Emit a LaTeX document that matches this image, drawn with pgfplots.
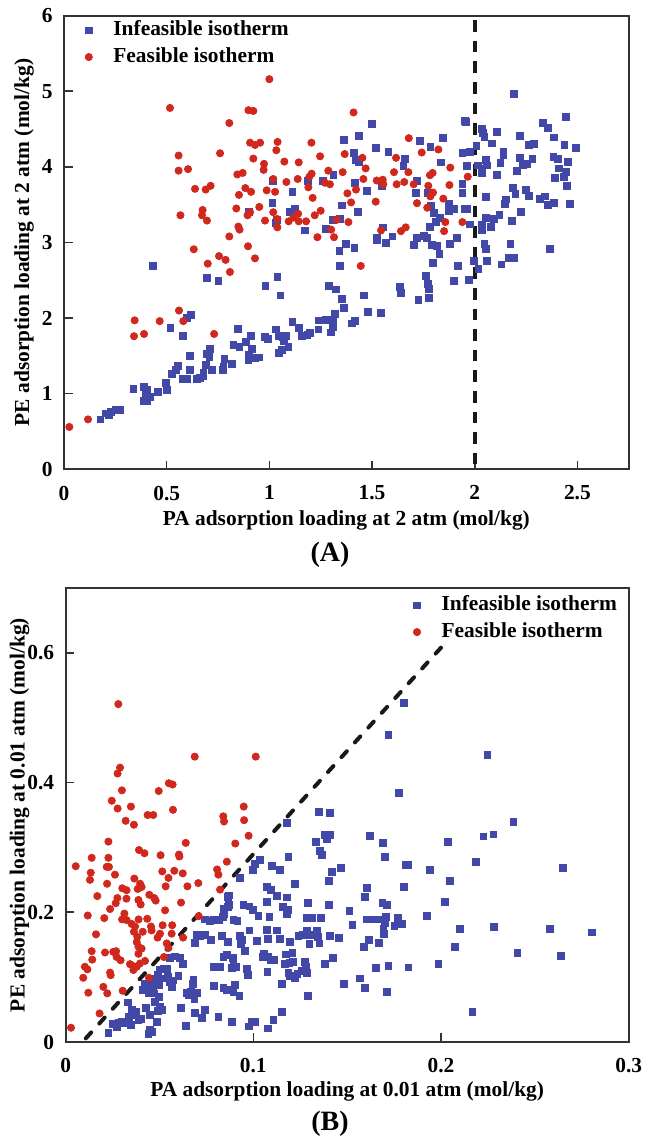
\documentclass[border=0pt]{standalone}
\usepackage{fontspec}
\setmainfont{Liberation Serif}
\usepackage{pgfplots}
\pgfplotsset{compat=1.18}
\definecolor{bluec}{RGB}{66,72,168}
\definecolor{redc}{RGB}{209,40,30}
\pgfplotsset{
  myaxis/.style={
    scale only axis,
    axis line style={black!80, line width=0.9pt},
    tick align=inside, xtick pos=bottom, ytick pos=left,
    major tick length=4.3pt,
    tick style={black!80, line width=0.8pt},
    /pgf/number format/assume math mode=true,
    every tick label/.append style={font=\fontsize{10.7}{12.8}\selectfont\bfseries},
    xticklabel style={yshift=-4.5pt},
    yticklabel style={xshift=-2pt},
    label style={font=\fontsize{10.7}{12.8}\selectfont\bfseries},
    legend cell align=left,
    legend image code/.code={\draw[##1] plot coordinates {(0pt,0pt)};},
    legend style={draw=none, fill=none, inner xsep=0pt, inner ysep=0pt,
      nodes={inner sep=0pt, text height=0.7em, text depth=0.2em},
      row sep=3.7pt, column sep=10.5pt,
      font=\fontsize{10.7}{12.8}\selectfont\bfseries},
  },
  bluem/.style={only marks, mark=square*, mark size=1.72pt, mark options={draw=bluec, fill=bluec, line width=0.4pt}},
  redm/.style={only marks, mark=*, mark size=1.8pt, mark options={draw=redc, fill=redc, line width=0.4pt}},
}
\begin{document}
\fontsize{10.7}{12.8}\selectfont\bfseries
\begin{tikzpicture}
\path[use as bounding box] (0,0) rectangle (327pt,569pt);
\begin{axis}[myaxis,
  at={(32pt,334.35pt)}, anchor=south west,
  width=282.35pt, height=226.8pt,
  xmin=0, xmax=2.75, ymin=0, ymax=6,
  xtick={0,0.5,1,1.5,2,2.5}, ytick={0,1,2,3,4,5,6},
  xlabel={PA adsorption loading at 2 atm (mol/kg)},
  ylabel={PE adsorption loading at 2 atm (mol/kg)},
  xlabel style={at={(axis description cs:0.5,0)}, anchor=center, yshift=-25.8pt},
  ylabel style={at={(axis description cs:0,0.5)}, anchor=center, yshift=20pt},
  legend style={at={(axis description cs:0,1)}, anchor=north west, xshift=10.4pt, yshift=-2.35pt},
]
\addplot[bluem] coordinates {
(1.498,4.57) (1.362,4.36) (1.434,4.41) (1.518,4.25) (1.58,4.20) (1.412,4.19) (1.422,4.09) (1.437,4.07) (1.312,3.89) (1.016,3.81) (1.187,3.81) (1.26,3.81) (1.417,3.79) (1.547,3.75) (1.477,3.68) (1.112,3.67) (1.015,3.52) (1.352,3.49) (1.43,3.41) (0.901,3.41) (1.101,3.41) (1.123,3.44) (1.037,3.30) (1.032,3.26) (1.174,3.16) (1.276,3.18) (1.308,3.30) (1.344,3.31) (1.523,3.06) (1.555,3.20)
(2.189,4.96) (2.442,4.66) (2.334,4.58) (2.356,4.52) (1.953,4.61) (1.958,4.60) (2.036,4.50) (2.039,4.45) (2.047,4.40) (2.11,4.46) (1.847,4.38) (1.734,4.34) (1.784,4.27) (2.222,4.41) (2.385,4.39) (2.083,4.31) (2.263,4.29) (2.289,4.30) (2.437,4.29) (2.494,4.25) (2.008,4.28) (1.977,4.20) (1.94,4.18) (2.14,4.20) (2.14,4.16) (1.662,4.10) (1.653,4.01) (1.837,4.06) (2.218,4.12) (2.281,4.11) (2.383,4.13) (2.407,4.11) (2.455,4.07) (2.055,4.09) (2.015,4.02) (2.037,3.98) (2.058,4.02) (1.964,4.01) (2.125,4.05) (2.234,4.02) (2.256,4.04) (2.409,3.98) (2.442,3.93) (2.435,3.87) (2.39,3.86) (2.205,3.95) (2.107,3.89) (2.037,3.92) (2.448,3.75) (1.718,3.81) (1.94,3.77) (1.94,3.66) (1.714,3.66) (1.771,3.66) (2.188,3.72) (2.198,3.64) (2.25,3.69) (2.263,3.62) (2.318,3.58) (2.343,3.61) (2.386,3.52) (2.358,3.50) (2.464,3.51) (2.055,3.60) (2.15,3.57) (2.145,3.51) (2.226,3.41) (2.12,3.37) (2.094,3.31) (2.055,3.32) (2.18,3.28) (1.786,3.49) (1.803,3.39) (1.876,3.51) (1.875,3.42) (1.9,3.44) (1.953,3.44) (1.964,3.44) (1.831,3.32) (1.81,3.27) (1.782,3.21) (1.977,3.24) (2.034,3.23) (2.078,3.21) (2.037,3.16) (1.599,3.08) (1.719,3.06) (1.753,3.09) (1.769,3.06) (1.915,3.06)
(0.432,2.69) (0.698,2.53) (0.752,2.49) (1.039,2.54) (0.981,2.43) (1.054,2.30) (1.292,2.42) (1.325,2.38) (1.352,2.25) (1.365,2.13) (1.461,2.30) (1.341,2.89) (1.372,2.98) (1.414,2.93) (1.344,2.69) (1.524,3.04) (1.568,2.99) (1.482,2.08) (1.544,2.07) (1.321,2.06) (1.24,1.97) (1.274,1.98) (1.295,1.98) (1.308,1.95) (1.308,1.88) (1.3,1.81) (1.403,1.93) (1.417,1.96) (1.112,1.95) (1.146,1.87) (1.239,1.85) (1.158,1.76) (1.185,1.78) (1.198,1.80) (1.032,1.85) (1.044,1.77) (1.068,1.75) (1.08,1.77) (1.071,1.70) (1.093,1.62) (1.06,1.58) (1.047,1.54) (0.979,1.75) (0.995,1.73) (0.909,1.77) (0.847,1.86) (0.886,1.68) (0.825,1.64) (0.854,1.62) (0.917,1.59) (0.899,1.52) (0.914,1.47) (0.898,1.45) (0.93,1.47) (0.951,1.48) (0.781,1.46) (0.817,1.39) (0.773,1.31) (0.776,1.36) (0.711,1.59) (0.695,1.53) (0.708,1.49) (0.69,1.38) (0.719,1.32) (0.679,1.28) (0.662,1.21) (0.646,1.19) (0.679,1.23) (0.615,1.50) (0.615,1.31) (0.581,1.76) (0.619,2.04) (0.597,2.00) (0.518,1.87) (0.554,1.37) (0.545,1.31) (0.526,1.26) (0.581,1.20) (0.599,1.19) (0.497,1.14) (0.503,1.05) (0.458,1.02) (0.39,1.09) (0.406,1.05) (0.399,1.01) (0.419,0.96) (0.406,0.90) (0.39,0.90) (0.338,1.06) (0.274,0.78) (0.253,0.78) (0.229,0.76) (0.213,0.74) (0.218,0.72) (0.205,0.74) (0.177,0.66)
(2.368,2.91) (2.174,2.98) (2.164,2.80) (2.192,2.80) (2.13,2.71) (2.058,2.76) (2.047,2.98) (2.055,2.92) (1.994,2.76) (2.018,2.65) (1.971,2.50) (1.899,2.49) (1.92,2.69) (1.88,2.98) (1.828,2.85) (1.815,2.95) (1.791,2.97) (1.795,2.73) (1.706,2.97) (1.763,2.56) (1.77,2.45) (1.778,2.39) (1.776,2.27) (1.726,2.24) (1.637,2.41) (1.641,2.33)
};
\addlegendentry{Infeasible isotherm}
\addplot[redm] coordinates {
(1.0,5.16) (0.516,4.78) (0.898,4.75) (0.922,4.74) (0.805,4.58) (1.41,4.72) (0.906,4.32) (0.93,4.29) (0.955,4.32) (1.04,4.33) (1.034,4.22) (1.205,4.32) (0.558,4.15) (0.76,4.18) (0.922,4.11) (0.974,4.04) (1.073,4.07) (1.143,4.06) (1.247,4.14) (1.367,4.17) (1.453,4.12) (0.558,3.95) (0.604,3.97) (0.972,3.96) (0.844,3.90) (0.870,3.92) (1.019,3.84) (1.138,3.84) (1.195,3.87) (1.206,3.91) (1.287,3.95) (1.357,3.93) (1.469,3.98) (1.458,3.84) (1.523,3.82) (1.552,3.83) (1.555,3.77) (0.638,3.71) (0.69,3.70) (0.714,3.75) (0.883,3.72) (0.852,3.63) (0.911,3.67) (0.987,3.69) (1.028,3.67) (1.083,3.80) (1.19,3.73) (1.211,3.59) (1.271,3.79) (1.295,3.77) (1.38,3.65) (1.422,3.70) (1.398,3.53) (1.518,3.54) (0.567,3.36) (0.675,3.43) (0.672,3.36) (0.696,3.29) (0.839,3.45) (0.951,3.47) (1.019,3.40) (1.039,3.31) (0.849,3.21) (0.855,3.17) (0.805,3.08) (0.894,3.36) (0.906,3.40) (0.979,3.29) (1.039,3.20) (1.094,3.28) (1.117,3.33) (1.140,3.38) (1.143,3.28) (1.179,3.28) (1.221,3.36) (1.250,3.42) (1.328,3.30) (1.385,3.27) (1.301,3.17) (1.234,3.07) (1.315,3.07) (1.544,3.16)
(1.679,4.38) (1.742,4.19) (1.823,4.23) (1.617,4.12) (1.607,3.93) (1.677,3.93) (1.620,3.77) (1.657,3.80) (1.703,3.77) (1.774,3.75) (1.782,3.89) (1.795,3.92) (1.881,3.99) (1.877,3.76) (1.966,3.87) (1.797,3.66) (1.784,3.61) (1.719,3.52) (1.769,3.46) (1.847,3.58) (1.857,3.27) (1.94,3.27) (1.851,3.15) (1.641,3.15) (1.664,3.20)
(0.026,0.56) (0.117,0.66) (0.344,1.97) (0.341,1.76) (0.39,1.79) (0.466,1.96) (0.56,2.10) (0.581,1.96) (0.731,1.79) (0.632,2.91) (0.70,2.72) (0.755,2.82) (0.787,2.77) (0.808,2.61) (0.896,2.95) (0.93,2.79) (1.445,2.69)
};
\addlegendentry{Feasible isotherm}
\addplot[black!90, line width=2pt, dash pattern=on 5.8pt off 4.5pt, forget plot] coordinates {(2,5.94) (2,0)};
\end{axis}
\node[font=\fontsize{14}{16}\selectfont\bfseries] at (165pt,291.5pt) {(A)};
\begin{axis}[myaxis,
  at={(32.8pt,48pt)}, anchor=south west,
  width=281.55pt, height=227pt,
  xmin=0, xmax=0.3, ymin=0, ymax=0.7,
  xtick={0,0.1,0.2,0.3}, ytick={0,0.2,0.4,0.6},
  xlabel={PA adsorption loading at 0.01 atm (mol/kg)},
  ylabel={PE adsorption loading at 0.01 atm (mol/kg)},
  xlabel style={at={(axis description cs:0.5,0)}, anchor=center, yshift=-24.5pt},
  ylabel style={at={(axis description cs:0,0.5)}, anchor=center, yshift=23pt},
  legend style={at={(axis description cs:0,1)}, anchor=north west, xshift=173.7pt, yshift=-3.7pt},
]
\addplot[bluem] coordinates {
(0.172,0.473) (0.135,0.355) (0.141,0.353) (0.1178,0.338)
(0.18,0.523) (0.2247,0.443) (0.1778,0.384) (0.2386,0.339)
(0.138,0.319) (0.141,0.319) (0.139,0.313) (0.1334,0.308) (0.1355,0.294) (0.1364,0.289) (0.162,0.318) (0.169,0.307) (0.170,0.285) (0.1187,0.285) (0.101,0.275) (0.1036,0.281) (0.0997,0.265) (0.1101,0.272) (0.1142,0.265) (0.1467,0.269) (0.1418,0.262) (0.1405,0.249) (0.0929,0.253) (0.1222,0.244) (0.1071,0.239) (0.1093,0.235) (0.1604,0.237) (0.1595,0.224) (0.1688,0.215) (0.1711,0.211) (0.1405,0.211) (0.1512,0.202) (0.1293,0.214) (0.1124,0.225) (0.1178,0.223) (0.1071,0.216) (0.0947,0.212) (0.0979,0.209) (0.1,0.203) (0.0872,0.226) (0.0871,0.212) (0.0841,0.205) (0.0864,0.208) (0.0864,0.224) (0.116,0.208) (0.1187,0.204) (0.1178,0.198) (0.1027,0.195) (0.1086,0.193) (0.1284,0.192) (0.1314,0.192) (0.136,0.192) (0.1604,0.189) (0.163,0.189) (0.1675,0.189) (0.1707,0.193) (0.1702,0.183) (0.1693,0.175) (0.1696,0.167) (0.172,0.117) (0.1528,0.18) (0.0743,0.189) (0.0769,0.187) (0.079,0.188) (0.0819,0.188) (0.0837,0.193) (0.0846,0.197) (0.0894,0.188) (0.0915,0.187) (0.0979,0.172) (0.1071,0.173) (0.1128,0.172) (0.1284,0.171) (0.1338,0.171) (0.1306,0.165) (0.1346,0.162) (0.124,0.163) (0.1262,0.165) (0.1409,0.163) (0.1458,0.161) (0.1616,0.157) (0.1670,0.153) (0.1590,0.147) (0.0698,0.165) (0.0716,0.163) (0.0743,0.165) (0.0689,0.153) (0.0773,0.158) (0.0832,0.163) (0.0864,0.154) (0.0929,0.163) (0.0941,0.157) (0.0934,0.151) (0.1021,0.156) (0.1080,0.159) (0.1142,0.159) (0.1196,0.155) (0.1299,0.151) (0.1352,0.152) (0.0956,0.14) (0.1057,0.136) (0.108,0.132) (0.1093,0.126) (0.105,0.131) (0.1174,0.135) (0.1208,0.138) (0.1169,0.121) (0.1192,0.122) (0.1213,0.124) (0.1112,0.126) (0.1275,0.124) (0.1279,0.116) (0.1261,0.11) (0.1284,0.106) (0.1382,0.121) (0.1423,0.129) (0.0841,0.131) (0.0858,0.134) (0.0894,0.127) (0.089,0.13) (0.079,0.116) (0.0822,0.116) (0.0885,0.114) (0.0908,0.116) (0.0968,0.113) (0.0973,0.103) (0.1075,0.108) (0.1187,0.106) (0.1196,0.102) (0.1235,0.105) (0.1222,0.098) (0.1151,0.089) (0.1293,0.071) (0.1483,0.09) (0.1569,0.098) (0.1595,0.083) (0.1654,0.114) (0.1711,0.077) (0.0583,0.132) (0.061,0.129) (0.0556,0.130) (0.0624,0.121) (0.0538,0.113) (0.0521,0.113) (0.05,0.112) (0.0494,0.103) (0.0521,0.098) (0.0547,0.101) (0.0556,0.093) (0.0574,0.095) (0.0601,0.102) (0.048,0.098) (0.0464,0.090) (0.0681,0.096) (0.0677,0.089) (0.0668,0.077) (0.0645,0.076) (0.0659,0.072) (0.0681,0.075) (0.0702,0.076) (0.0686,0.066) (0.079,0.087) (0.0841,0.083) (0.0858,0.081) (0.0902,0.088) (0.0894,0.077) (0.0926,0.071) (0.0423,0.09) (0.0435,0.085) (0.0441,0.08) (0.0414,0.08) (0.0464,0.08) (0.0446,0.075) (0.0499,0.088) (0.0565,0.085) (0.0471,0.075) (0.0498,0.07) (0.0476,0.062) (0.0503,0.054) (0.0515,0.049) (0.0331,0.061) (0.0352,0.049) (0.0375,0.047) (0.0364,0.042) (0.0338,0.039) (0.0388,0.034) (0.0402,0.036) (0.045,0.042) (0.0428,0.052) (0.0494,0.048) (0.0615,0.053) (0.0689,0.045) (0.0725,0.037) (0.0743,0.05) (0.0814,0.039) (0.0888,0.031) (0.0991,0.031) (0.1009,0.031) (0.1107,0.034) (0.1153,0.047) (0.108,0.021) (0.0975,0.024) (0.0641,0.025) (0.0485,0.031) (0.0254,0.028) (0.0281,0.03) (0.0299,0.031) (0.0317,0.029) (0.0334,0.03) (0.0347,0.026) (0.0272,0.023) (0.0228,0.014) (0.045,0.018) (0.0441,0.013) (0.0459,0.016)
(0.2279,0.32) (0.2226,0.317) (0.2039,0.309) (0.2188,0.278) (0.265,0.268) (0.1815,0.273) (0.1822,0.273) (0.194,0.266) (0.2049,0.249) (0.18,0.239) (0.2023,0.216) (0.1927,0.194) (0.1771,0.192) (0.1792,0.182) (0.1752,0.179) (0.2103,0.175) (0.2284,0.178) (0.2582,0.175) (0.2806,0.169) (0.2073,0.147) (0.2407,0.137) (0.264,0.133) (0.1986,0.121) (0.1826,0.115) (0.2167,0.046)
};
\addlegendentry{Infeasible isotherm}
\addplot[redm] coordinates {
(0.0281,0.521) (0.0688,0.44) (0.1013,0.44) (0.029,0.423) (0.0277,0.414) (0.030,0.388) (0.0246,0.372) (0.0277,0.36) (0.0348,0.363) (0.032,0.341) (0.0364,0.335) (0.0496,0.387) (0.055,0.399) (0.057,0.397) (0.0437,0.35) (0.0467,0.35) (0.0572,0.358) (0.084,0.348) (0.0844,0.34) (0.0949,0.363) (0.0951,0.342)
(0.0029,0.022) (0.0054,0.271) (0.0139,0.284) (0.0228,0.309) (0.0134,0.261) (0.013,0.250) (0.0219,0.270) (0.0231,0.270) (0.0263,0.258) (0.0228,0.284) (0.0391,0.296) (0.042,0.291) (0.0506,0.288) (0.0604,0.289) (0.0606,0.286) (0.064,0.307) (0.0515,0.263) (0.0579,0.264) (0.0624,0.26) (0.0548,0.253) (0.0533,0.24) (0.0649,0.24) (0.0707,0.245) (0.0807,0.266) (0.0814,0.258) (0.0859,0.278) (0.0904,0.306) (0.0975,0.318) (0.0221,0.244) (0.0366,0.252) (0.0397,0.244) (0.0384,0.236) (0.0405,0.239) (0.0302,0.237) (0.0325,0.234) (0.0169,0.225) (0.0276,0.222) (0.0267,0.214) (0.0324,0.221) (0.0388,0.219) (0.0400,0.212) (0.0446,0.227) (0.0472,0.222) (0.048,0.218) (0.0237,0.205) (0.0118,0.195) (0.0206,0.191) (0.0313,0.198) (0.0325,0.188) (0.0301,0.189) (0.0389,0.189) (0.0435,0.19) (0.0530,0.203) (0.0615,0.215) (0.0709,0.194) (0.0823,0.235) (0.0352,0.182) (0.037,0.178) (0.0455,0.178) (0.0458,0.172) (0.0517,0.18) (0.0568,0.18) (0.0565,0.167) (0.0503,0.167) (0.049,0.161) (0.0411,0.17) (0.0364,0.17) (0.0382,0.162) (0.0379,0.154) (0.0626,0.161) (0.0162,0.166) (0.0139,0.14) (0.0142,0.127) (0.0210,0.138) (0.0254,0.139) (0.0269,0.14) (0.0293,0.126) (0.0272,0.131) (0.0388,0.147) (0.0405,0.144) (0.0388,0.136) (0.0539,0.152) (0.0548,0.145) (0.0524,0.131) (0.0343,0.12) (0.0361,0.117) (0.0379,0.116) (0.0396,0.121) (0.0361,0.111) (0.0423,0.125) (0.0103,0.116) (0.0116,0.112) (0.0094,0.099) (0.0237,0.107) (0.0240,0.103) (0.0444,0.099) (0.0121,0.076) (0.0201,0.085) (0.0222,0.075) (0.0304,0.079) (0.0181,0.044)
};
\addlegendentry{Feasible isotherm}
\addplot[black!90, line width=2pt, line cap=round, dash pattern=on 4pt off 6pt, forget plot] coordinates {(0.2,0.608) (0.009,0)};
\end{axis}
\node[font=\fontsize{14}{16}\selectfont\bfseries] at (165pt,7pt) {(B)};
\end{tikzpicture}
\end{document}
